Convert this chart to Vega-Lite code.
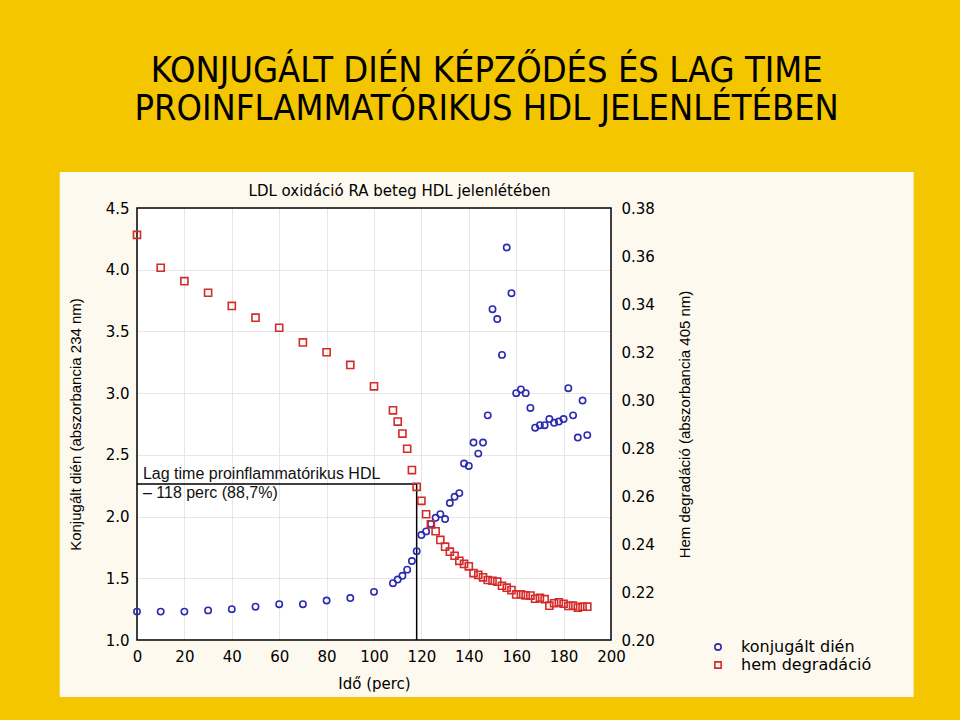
{
  "$schema": "https://vega.github.io/schema/vega-lite/v6.json",
  "autosize": {"type": "none"},
  "width": 474,
  "height": 432,
  "padding": {"left": 137, "top": 208, "right": 349, "bottom": 80},
  "background": "#F3C600",
  "title": {
    "text": ["KONJUGÁLT DIÉN KÉPZŐDÉS ÉS LAG TIME", "PROINFLAMMATÓRIKUS HDL JELENLÉTÉBEN"],
    "font": "Liberation Sans Narrow, DejaVu Sans Condensed, sans-serif",
    "fontSize": 36,
    "fontWeight": "normal",
    "color": "#000000",
    "lineHeight": 38,
    "anchor": "middle",
    "frame": "bounds",
    "offset": 44
  },
  "datasets": {
    "dien": [
      {"t": 0, "v": 1.23, "s": "konjugált dién"},
      {"t": 10, "v": 1.23, "s": "konjugált dién"},
      {"t": 20, "v": 1.23, "s": "konjugált dién"},
      {"t": 30, "v": 1.24, "s": "konjugált dién"},
      {"t": 40, "v": 1.25, "s": "konjugált dién"},
      {"t": 50, "v": 1.27, "s": "konjugált dién"},
      {"t": 60, "v": 1.29, "s": "konjugált dién"},
      {"t": 70, "v": 1.29, "s": "konjugált dién"},
      {"t": 80, "v": 1.32, "s": "konjugált dién"},
      {"t": 90, "v": 1.34, "s": "konjugált dién"},
      {"t": 100, "v": 1.39, "s": "konjugált dién"},
      {"t": 108, "v": 1.46, "s": "konjugált dién"},
      {"t": 110, "v": 1.49, "s": "konjugált dién"},
      {"t": 112, "v": 1.52, "s": "konjugált dién"},
      {"t": 114, "v": 1.57, "s": "konjugált dién"},
      {"t": 116, "v": 1.64, "s": "konjugált dién"},
      {"t": 118, "v": 1.72, "s": "konjugált dién"},
      {"t": 120, "v": 1.85, "s": "konjugált dién"},
      {"t": 122, "v": 1.88, "s": "konjugált dién"},
      {"t": 124, "v": 1.94, "s": "konjugált dién"},
      {"t": 126, "v": 1.99, "s": "konjugált dién"},
      {"t": 128, "v": 2.02, "s": "konjugált dién"},
      {"t": 130, "v": 1.98, "s": "konjugált dién"},
      {"t": 132, "v": 2.11, "s": "konjugált dién"},
      {"t": 134, "v": 2.16, "s": "konjugált dién"},
      {"t": 136, "v": 2.19, "s": "konjugált dién"},
      {"t": 138, "v": 2.43, "s": "konjugált dién"},
      {"t": 140, "v": 2.41, "s": "konjugált dién"},
      {"t": 142, "v": 2.6, "s": "konjugált dién"},
      {"t": 144, "v": 2.51, "s": "konjugált dién"},
      {"t": 146, "v": 2.6, "s": "konjugált dién"},
      {"t": 148, "v": 2.82, "s": "konjugált dién"},
      {"t": 150, "v": 3.68, "s": "konjugált dién"},
      {"t": 152, "v": 3.6, "s": "konjugált dién"},
      {"t": 154, "v": 3.31, "s": "konjugált dién"},
      {"t": 156, "v": 4.18, "s": "konjugált dién"},
      {"t": 158, "v": 3.81, "s": "konjugált dién"},
      {"t": 160, "v": 3.0, "s": "konjugált dién"},
      {"t": 162, "v": 3.03, "s": "konjugált dién"},
      {"t": 164, "v": 3.0, "s": "konjugált dién"},
      {"t": 166, "v": 2.88, "s": "konjugált dién"},
      {"t": 168, "v": 2.72, "s": "konjugált dién"},
      {"t": 170, "v": 2.74, "s": "konjugált dién"},
      {"t": 172, "v": 2.74, "s": "konjugált dién"},
      {"t": 174, "v": 2.79, "s": "konjugált dién"},
      {"t": 176, "v": 2.76, "s": "konjugált dién"},
      {"t": 178, "v": 2.77, "s": "konjugált dién"},
      {"t": 180, "v": 2.79, "s": "konjugált dién"},
      {"t": 182, "v": 3.04, "s": "konjugált dién"},
      {"t": 184, "v": 2.82, "s": "konjugált dién"},
      {"t": 186, "v": 2.64, "s": "konjugált dién"},
      {"t": 188, "v": 2.94, "s": "konjugált dién"},
      {"t": 190, "v": 2.66, "s": "konjugált dién"}
    ],
    "hem": [
      {"t": 0, "v": 0.3688, "s": "hem degradáció"},
      {"t": 10, "v": 0.3551, "s": "hem degradáció"},
      {"t": 20, "v": 0.3495, "s": "hem degradáció"},
      {"t": 30, "v": 0.3447, "s": "hem degradáció"},
      {"t": 40, "v": 0.3392, "s": "hem degradáció"},
      {"t": 50, "v": 0.3343, "s": "hem degradáció"},
      {"t": 60, "v": 0.3301, "s": "hem degradáció"},
      {"t": 70, "v": 0.324, "s": "hem degradáció"},
      {"t": 80, "v": 0.3199, "s": "hem degradáció"},
      {"t": 90, "v": 0.3146, "s": "hem degradáció"},
      {"t": 100, "v": 0.3057, "s": "hem degradáció"},
      {"t": 108, "v": 0.2957, "s": "hem degradáció"},
      {"t": 110, "v": 0.291, "s": "hem degradáció"},
      {"t": 112, "v": 0.286, "s": "hem degradáció"},
      {"t": 114, "v": 0.2797, "s": "hem degradáció"},
      {"t": 116, "v": 0.2708, "s": "hem degradáció"},
      {"t": 118, "v": 0.2638, "s": "hem degradáció"},
      {"t": 120, "v": 0.258, "s": "hem degradáció"},
      {"t": 122, "v": 0.2524, "s": "hem degradáció"},
      {"t": 124, "v": 0.2482, "s": "hem degradáció"},
      {"t": 126, "v": 0.2453, "s": "hem degradáció"},
      {"t": 128, "v": 0.2417, "s": "hem degradáció"},
      {"t": 130, "v": 0.2389, "s": "hem degradáció"},
      {"t": 132, "v": 0.2368, "s": "hem degradáció"},
      {"t": 134, "v": 0.2351, "s": "hem degradáció"},
      {"t": 136, "v": 0.233, "s": "hem degradáció"},
      {"t": 138, "v": 0.2317, "s": "hem degradáció"},
      {"t": 140, "v": 0.2307, "s": "hem degradáció"},
      {"t": 142, "v": 0.2279, "s": "hem degradáció"},
      {"t": 144, "v": 0.2271, "s": "hem degradáció"},
      {"t": 146, "v": 0.2261, "s": "hem degradáció"},
      {"t": 148, "v": 0.225, "s": "hem degradáció"},
      {"t": 150, "v": 0.2247, "s": "hem degradáció"},
      {"t": 152, "v": 0.2243, "s": "hem degradáció"},
      {"t": 154, "v": 0.2226, "s": "hem degradáció"},
      {"t": 156, "v": 0.2218, "s": "hem degradáció"},
      {"t": 158, "v": 0.2208, "s": "hem degradáció"},
      {"t": 160, "v": 0.219, "s": "hem degradáció"},
      {"t": 162, "v": 0.219, "s": "hem degradáció"},
      {"t": 164, "v": 0.2186, "s": "hem degradáció"},
      {"t": 166, "v": 0.2185, "s": "hem degradáció"},
      {"t": 168, "v": 0.2172, "s": "hem degradáció"},
      {"t": 170, "v": 0.2176, "s": "hem degradáció"},
      {"t": 172, "v": 0.217, "s": "hem degradáció"},
      {"t": 174, "v": 0.2143, "s": "hem degradáció"},
      {"t": 176, "v": 0.2153, "s": "hem degradáció"},
      {"t": 178, "v": 0.2157, "s": "hem degradáció"},
      {"t": 180, "v": 0.2151, "s": "hem degradáció"},
      {"t": 182, "v": 0.2142, "s": "hem degradáció"},
      {"t": 184, "v": 0.2143, "s": "hem degradáció"},
      {"t": 186, "v": 0.2135, "s": "hem degradáció"},
      {"t": 188, "v": 0.2139, "s": "hem degradáció"},
      {"t": 190, "v": 0.2139, "s": "hem degradáció"}
    ],
    "lag": [
      {"t": 0, "v": 2.264},
      {"t": 118, "v": 2.264},
      {"t": 118, "v": 1.0}
    ]
  },
  "layer": [
    {
      "data": {"values": [{}]},
      "mark": {"type": "rect", "fill": "#FDF9EE", "clip": false},
      "encoding": {
        "x": {
          "datum": -32.6, "type": "quantitative",
          "scale": {"domain": [0, 200], "nice": false, "zero": false},
          "axis": {
            "orient": "bottom", "grid": true, "labels": false, "ticks": false, "domain": false, "title": null,
            "values": [20, 40, 60, 80, 100, 120, 140, 160, 180], "zindex": 0
          }
        },
        "x2": {"datum": 327.7},
        "y": {
          "datum": 4.792, "type": "quantitative",
          "scale": {"domain": [1, 4.5], "nice": false, "zero": false},
          "axis": {
            "orient": "left", "grid": true, "labels": false, "ticks": false, "domain": false, "title": null,
            "values": [1.5, 2, 2.5, 3, 3.5, 4], "zindex": 0
          }
        },
        "y2": {"datum": 4.5}
      }
    },
    {
      "data": {"values": [{}]},
      "mark": {"type": "rect", "fill": "#FDF9EE", "clip": false},
      "encoding": {
        "x": {"datum": -32.6, "type": "quantitative", "scale": {"domain": [0, 200], "nice": false, "zero": false}, "axis": null},
        "x2": {"datum": 327.7},
        "y": {"datum": 1, "type": "quantitative", "scale": {"domain": [1, 4.5], "nice": false, "zero": false}, "axis": null},
        "y2": {"datum": 0.538}
      }
    },
    {
      "data": {"values": [{}]},
      "mark": {"type": "rect", "fill": "#FDF9EE", "clip": false},
      "encoding": {
        "x": {"datum": -32.6, "type": "quantitative", "scale": {"domain": [0, 200], "nice": false, "zero": false}, "axis": null},
        "x2": {"datum": 0},
        "y": {"datum": 4.5, "type": "quantitative", "scale": {"domain": [1, 4.5], "nice": false, "zero": false}, "axis": null},
        "y2": {"datum": 1}
      }
    },
    {
      "data": {"values": [{}]},
      "mark": {"type": "rect", "fill": "#FDF9EE", "clip": false},
      "encoding": {
        "x": {"datum": 200, "type": "quantitative", "scale": {"domain": [0, 200], "nice": false, "zero": false}, "axis": null},
        "x2": {"datum": 327.7},
        "y": {"datum": 4.5, "type": "quantitative", "scale": {"domain": [1, 4.5], "nice": false, "zero": false}, "axis": null},
        "y2": {"datum": 1}
      }
    },
    {
      "data": {"values": [{}]},
      "mark": {"type": "rect", "filled": false, "stroke": "#000000", "strokeWidth": 1.5, "opacity": 1},
      "encoding": {
        "x": {"datum": 0, "type": "quantitative", "scale": {"domain": [0, 200], "nice": false, "zero": false}, "axis": null},
        "x2": {"datum": 200},
        "y": {"datum": 4.5, "type": "quantitative", "scale": {"domain": [1, 4.5], "nice": false, "zero": false}, "axis": null},
        "y2": {"datum": 1}
      }
    },
    {
      "data": {"name": "lag"},
      "mark": {"type": "line", "color": "#000000", "strokeWidth": 1.5},
      "encoding": {
        "x": {"field": "t", "type": "quantitative", "scale": {"domain": [0, 200], "nice": false, "zero": false}, "axis": null},
        "y": {"field": "v", "type": "quantitative", "scale": {"domain": [1, 4.5], "nice": false, "zero": false}, "axis": null},
        "order": {"value": 0}
      }
    },
    {
      "data": {"values": [{}]},
      "mark": {
        "type": "text",
        "text": ["Lag time proinflammatórikus HDL", "– 118 perc (88,7%)"],
        "align": "left",
        "baseline": "alphabetic",
        "font": "Liberation Sans, Arial, sans-serif",
        "fontSize": 16,
        "lineHeight": 19,
        "color": "#111111"
      },
      "encoding": {
        "x": {"datum": 2.5, "type": "quantitative", "scale": {"domain": [0, 200], "nice": false, "zero": false}, "axis": null},
        "y": {"datum": 2.304, "type": "quantitative", "scale": {"domain": [1, 4.5], "nice": false, "zero": false}, "axis": null}
      }
    },
    {
      "data": {"name": "dien"},
      "mark": {"type": "point", "filled": false, "strokeWidth": 1.6, "size": 40, "opacity": 1},
      "encoding": {
        "x": {
          "field": "t", "type": "quantitative",
          "scale": {"domain": [0, 200], "nice": false, "zero": false},
          "axis": {
            "title": "Idő (perc)",
            "values": [0, 20, 40, 60, 80, 100, 120, 140, 160, 180, 200],
            "orient": "bottom",
            "zindex": 1,
            "grid": false,
            "labelFlush": false,
            "labelPadding": 9,
            "titleFont": "DejaVu Sans",
            "titleFontSize": 15,
            "titlePadding": 12
          }
        },
        "y": {
          "field": "v", "type": "quantitative",
          "scale": {"domain": [1, 4.5], "nice": false, "zero": false},
          "axis": {
            "title": "Konjugált dién (abszorbancia 234 nm)",
            "values": [1, 1.5, 2, 2.5, 3, 3.5, 4, 4.5],
            "format": ".1f",
            "orient": "left",
            "zindex": 1,
            "grid": false,
            "labelFlush": false,
            "labelPadding": 8,
            "titleFont": "Liberation Sans, Arial, sans-serif",
            "titleFontSize": 15,
            "titlePadding": 22
          }
        },
        "color": {"field": "s", "type": "nominal", "scale": {"domain": ["konjugált dién", "hem degradáció"], "range": ["#2B2BB0", "#D42B2B"]}, "legend": {"orient": "none", "legendX": 573, "legendY": 431, "title": null}},
        "shape": {"field": "s", "type": "nominal", "scale": {"domain": ["konjugált dién", "hem degradáció"], "range": ["circle", "square"]}, "legend": {"orient": "none", "legendX": 573, "legendY": 431, "title": null}}
      }
    },
    {
      "data": {"name": "hem"},
      "mark": {"type": "point", "filled": false, "strokeWidth": 1.6, "size": 50, "opacity": 1},
      "encoding": {
        "x": {
          "field": "t", "type": "quantitative",
          "scale": {"domain": [0, 200], "nice": false, "zero": false},
          "axis": {
            "orient": "top",
            "title": "LDL oxidáció RA beteg HDL jelenlétében",
            "labels": false,
            "grid": false,
            "ticks": false,
            "zindex": 1,
            "titleFont": "DejaVu Sans",
            "titleFontSize": 15,
            "titlePadding": 10,
            "titleX": 262
          }
        },
        "y": {
          "field": "v", "type": "quantitative",
          "scale": {"domain": [0.2, 0.38], "nice": false, "zero": false},
          "axis": {
            "orient": "right",
            "title": "Hem degradáció (abszorbancia 405 nm)",
            "values": [0.2, 0.22, 0.24, 0.26, 0.28, 0.3, 0.32, 0.34, 0.36, 0.38],
            "format": ".2f",
            "grid": false,
            "zindex": 1,
            "labelFlush": false,
            "labelPadding": 10,
            "titleAngle": -90,
            "titleBaseline": "top",
            "titleFont": "Liberation Sans, Arial, sans-serif",
            "titleFontSize": 15,
            "titlePadding": 23
          }
        },
        "color": {"field": "s", "type": "nominal"},
        "shape": {"field": "s", "type": "nominal"}
      }
    }
  ],
  "resolve": {"scale": {"x": "independent", "y": "independent"}},
  "config": {
    "view": {"stroke": null, "fill": "#FFFFFF"},
    "axis": {
      "domain": false,
      "ticks": false,
      "labelFont": "DejaVu Sans",
      "labelFontSize": 15,
      "labelColor": "#000000",
      "titleColor": "#000000",
      "titleFontWeight": "normal",
      "gridColor": "#E6E6E6",
      "gridWidth": 1
    },
    "legend": {
      "labelFont": "DejaVu Sans",
      "labelFontSize": 16,
      "labelColor": "#000000",
      "symbolStrokeWidth": 1.6,
      "symbolSize": 40,
      "labelOffset": 15,
      "rowPadding": 2,
      "padding": 0
    }
  }
}
